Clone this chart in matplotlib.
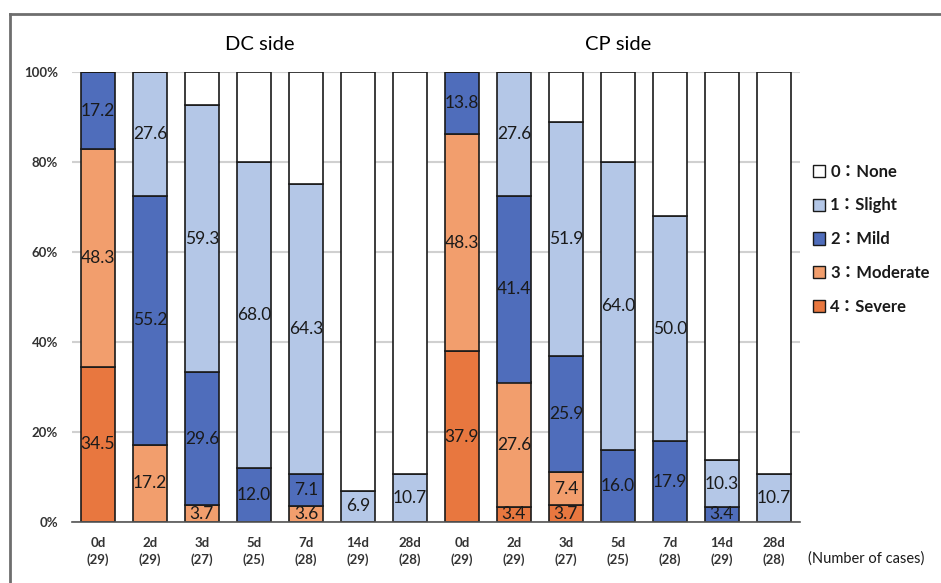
import matplotlib.pyplot as plt
from matplotlib.patches import Rectangle
from matplotlib.lines import Line2D

plt.rcParams['font.family'] = ['Lato', 'Noto Sans CJK JP', 'DejaVu Sans']

days = ["0d", "2d", "3d", "5d", "7d", "14d", "28d"]
dc_cases = [29, 29, 27, 25, 28, 29, 28]
cp_cases = [29, 29, 27, 25, 28, 29, 28]

# Percentages per grade (4 = severe ... 0 = none), DC side
dc_severe   = [34.5, 0.0, 0.0, 0.0, 0.0, 0.0, 0.0]
dc_moderate = [48.3, 17.2, 3.7, 0.0, 3.6, 0.0, 0.0]
dc_mild     = [17.2, 55.2, 29.6, 12.0, 7.1, 0.0, 0.0]
dc_slight   = [0.0, 27.6, 59.3, 68.0, 64.3, 6.9, 10.7]
dc_none     = [0.0, 0.0, 7.4, 20.0, 25.0, 93.1, 89.3]

# CP side
cp_severe   = [37.9, 3.4, 3.7, 0.0, 0.0, 0.0, 0.0]
cp_moderate = [48.3, 27.6, 7.4, 0.0, 0.0, 0.0, 0.0]
cp_mild     = [13.8, 41.4, 25.9, 16.0, 17.9, 3.4, 0.0]
cp_slight   = [0.0, 27.6, 51.9, 64.0, 50.0, 10.3, 10.7]
cp_none     = [0.0, 0.0, 11.1, 20.0, 32.1, 86.2, 89.3]

grade_labels = ["0：None", "1：Slight", "2：Mild", "3：Moderate", "4：Severe"]
grade_colors = ["#FFFFFF", "#B4C7E7", "#4F6DBB", "#F29E6D", "#E8773F"]

severe = dc_severe + cp_severe
moderate = dc_moderate + cp_moderate
mild = dc_mild + cp_mild
slight = dc_slight + cp_slight
none = dc_none + cp_none
cases = dc_cases + cp_cases
xlabels = [f"{d}\n({n})" for d, n in zip(days + days, cases)]

fig = plt.figure(figsize=(9.41, 5.83), dpi=100)
W, H = 941, 583
ax = fig.add_axes([72 / W, (H - 522) / H, 728 / W, 450 / H])

x = list(range(len(xlabels)))
stack = [severe, moderate, mild, slight, none]
stack_colors = grade_colors[::-1]
bottom = [0.0] * len(x)
for k, (vals, col) in enumerate(zip(stack, stack_colors)):
    ax.bar(x, vals, width=0.67, bottom=bottom, color=col,
           edgecolor="#1a1a1a", linewidth=1.2, zorder=3)
    if k < 4:
        for xi, v, b in zip(x, vals, bottom):
            if v > 0:
                ax.text(xi, b + v / 2, f"{v:.1f}", ha="center", va="center",
                        fontsize=12.5, color="#1a1a1a", zorder=4)
    bottom = [b + v for b, v in zip(bottom, vals)]

ax.set_xlim(-0.5, 13.5)
ax.set_ylim(0, 100)
ax.set_yticks([0, 20, 40, 60, 80, 100])
ax.set_yticklabels([f"{v}%" for v in [0, 20, 40, 60, 80, 100]],
                   fontsize=9.5, fontweight="bold", color="#333333")
ax.set_xticks(x)
ax.set_xticklabels(xlabels, fontsize=9.5, fontweight="bold", color="#333333",
                   linespacing=1.35)
ax.tick_params(axis="both", length=0)
ax.tick_params(axis="y", pad=10)
ax.tick_params(axis="x", pad=11)
ax.grid(axis="y", color="#D0D0D0", linewidth=1.5, zorder=0)
for s in ["top", "right", "left"]:
    ax.spines[s].set_visible(False)
ax.spines["bottom"].set_color("#555555")
ax.spines["bottom"].set_linewidth(1.2)
ax.spines["bottom"].set_zorder(5)

fig.text(260 / W, 1 - 45 / H, "DC side", ha="center", va="center", fontsize=14.5)
fig.text(618 / W, 1 - 45 / H, "CP side", ha="center", va="center", fontsize=14.5)
fig.text(866 / W, 1 - 559 / H, "(Number of cases)", ha="center", va="center",
         fontsize=10.5, color="#1a1a1a")

handles = [Rectangle((0, 0), 1, 1, facecolor=c, edgecolor="#1a1a1a", linewidth=1.0)
           for c in grade_colors]
leg = fig.legend(handles, grade_labels, loc="upper left",
                 bbox_to_anchor=(806 / W, 1 - 157 / H), frameon=False,
                 prop={"size": 12, "weight": "bold",
                       "family": ["Lato", "Noto Sans CJK JP", "DejaVu Sans"]},
                 handlelength=0.75, handleheight=0.75, handletextpad=0.3,
                 labelspacing=1.07, borderaxespad=0)
for t in leg.get_texts():
    t.set_color("#1a1a1a")

# outer frame
fig.add_artist(Line2D([10 / W, 10 / W], [0, 1 - 14 / H], transform=fig.transFigure,
                      color="#6E6E6E", linewidth=2))
fig.add_artist(Line2D([10 / W, 1], [1 - 14 / H, 1 - 14 / H], transform=fig.transFigure,
                      color="#6E6E6E", linewidth=2))

fig.savefig("out.png", dpi=100)
